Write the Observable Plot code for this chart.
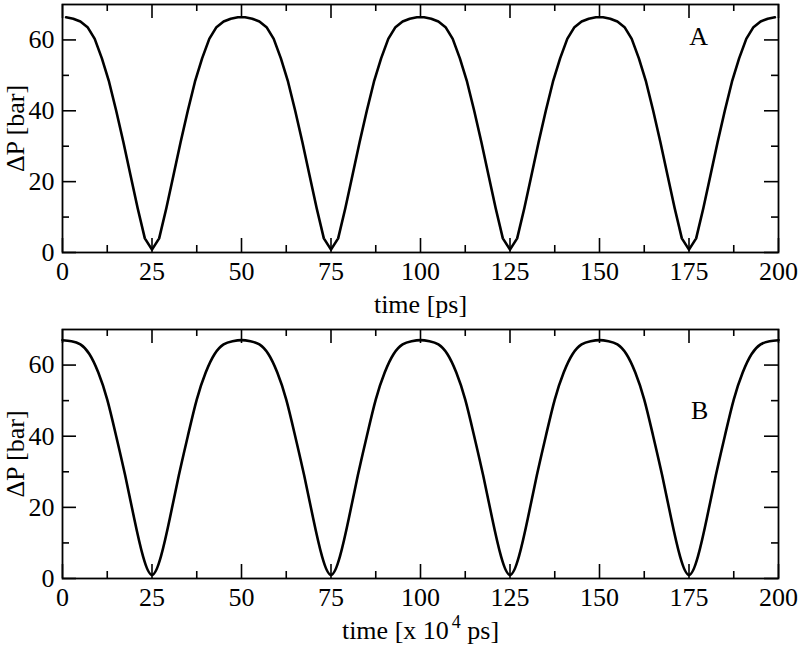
<!DOCTYPE html>
<html>
<head>
<meta charset="utf-8">
<script src="https://cdn.jsdelivr.net/npm/d3@7"></script>
<script src="https://cdn.jsdelivr.net/npm/@observablehq/plot@0.6"></script>
<style>
  html, body { margin: 0; padding: 0; background: white; }
  #chart svg { display: block; }
</style>
</head>
<body>
<div id="chart"></div>
<script>
// ---- Data ----
// Panel A: coarse sampling at odd times 1..199 ps
const timesA = d3.range(1, 200, 2);
const valuesA = [
  66.4,66.0,65.2,63.6,60.3,54.8,48.2,40.0,31.2,21.8,12.5,4.0,0.8,4.0,12.5,21.8,31.2,40.0,48.2,54.8,60.3,63.6,65.2,66.0,66.4,
  66.4,66.0,65.2,63.6,60.3,54.8,48.2,40.0,31.2,21.8,12.5,4.0,0.8,4.0,12.5,21.8,31.2,40.0,48.2,54.8,60.3,63.6,65.2,66.0,66.4,
  66.4,66.0,65.2,63.6,60.3,54.8,48.2,40.0,31.2,21.8,12.5,4.0,0.8,4.0,12.5,21.8,31.2,40.0,48.2,54.8,60.3,63.6,65.2,66.0,66.4,
  66.4,66.0,65.2,63.6,60.3,54.8,48.2,40.0,31.2,21.8,12.5,4.0,0.8,4.0,12.5,21.8,31.2,40.0,48.2,54.8,60.3,63.6,65.2,66.0,66.4
];
// Panel B: sampled every 2.5 (x 10^4 ps), smooth curve
const timesB = d3.range(0, 200.001, 2.5);
const valuesB = [
  67.0,66.7,65.8,63.1,57.9,50.3,40.0,29.0,17.0,6.2,1.0,6.2,17.0,29.0,40.0,50.3,57.9,63.1,65.8,66.7,67.0,
  66.7,65.8,63.1,57.9,50.3,40.0,29.0,17.0,6.2,1.0,6.2,17.0,29.0,40.0,50.3,57.9,63.1,65.8,66.7,67.0,
  66.7,65.8,63.1,57.9,50.3,40.0,29.0,17.0,6.2,1.0,6.2,17.0,29.0,40.0,50.3,57.9,63.1,65.8,66.7,67.0,
  66.7,65.8,63.1,57.9,50.3,40.0,29.0,17.0,6.2,1.0,6.2,17.0,29.0,40.0,50.3,57.9,63.1,65.8,66.7,67.0
];
const xMajor = [0, 25, 50, 75, 100, 125, 150, 175, 200];
const xMinor = [12.5, 37.5, 62.5, 87.5, 112.5, 137.5, 162.5, 187.5];
const yMajor = [0, 20, 40, 60];
const yMinor = [10, 30, 50];
const yTitle = "ΔP [bar]";
const xTitleA = "time [ps]";
const xTitleB = "time [x 10^4 ps]";

const W = 801, ML = 62, MR = 23;

function panel({times, values, curve, tag, tagX, tagY, height, marginTop, marginBottom, xTitle}) {
  const innerH = height - marginTop - marginBottom;
  const innerW = W - ML - MR;
  const data = times.map((t, i) => ({t, p: values[i]}));
  const tickStyle = {stroke: "black", strokeWidth: 1.6};
  return Plot.plot({
    width: W, height, marginLeft: ML, marginRight: MR, marginTop, marginBottom,
    style: {fontFamily: "'Liberation Serif', 'Times New Roman', serif", fontSize: "26px", background: "white", color: "black", overflow: "visible"},
    x: {domain: [0, 200]},
    y: {domain: [0, 70]},
    marks: [
      Plot.tickX(xMajor, {x: d => d, insetTop: innerH - 14, ...tickStyle}),
      Plot.tickX(xMajor, {x: d => d, insetBottom: innerH - 14, ...tickStyle}),
      Plot.tickX(xMinor, {x: d => d, insetTop: innerH - 7, ...tickStyle}),
      Plot.tickX(xMinor, {x: d => d, insetBottom: innerH - 7, ...tickStyle}),
      Plot.tickY(yMajor, {y: d => d, insetRight: innerW - 14, ...tickStyle}),
      Plot.tickY(yMajor, {y: d => d, insetLeft: innerW - 14, ...tickStyle}),
      Plot.tickY(yMinor, {y: d => d, insetRight: innerW - 7, ...tickStyle}),
      Plot.tickY(yMinor, {y: d => d, insetLeft: innerW - 7, ...tickStyle}),
      Plot.axisX({ticks: xMajor, tickSize: 0, tickPadding: 9, label: null, tickFormat: d => String(d)}),
      Plot.axisY({ticks: yMajor, tickSize: 0, tickPadding: 8, label: null, tickFormat: d => String(d)}),
      Plot.line(data, {x: "t", y: "p", stroke: "black", strokeWidth: 2.6, curve}),
      Plot.frame({stroke: "black", strokeWidth: 1.8}),
      Plot.text([tag], {x: () => tagX, y: () => tagY, text: d => d, textAnchor: "middle", lineAnchor: "middle", fill: "black"}),
      Plot.text([yTitle], {frameAnchor: "left", text: d => d, rotate: -90, dx: -47, textAnchor: "middle", lineAnchor: "middle", fill: "black"}),
      Plot.text([xTitle], {frameAnchor: "bottom", text: d => d, dy: 52, textAnchor: "middle", lineAnchor: "middle", fill: "black"})
    ]
  });
}

const svgA = panel({times: timesA, values: valuesA, curve: "linear", tag: "A", tagX: 177.7, tagY: 60.9,
  height: 318, marginTop: 4, marginBottom: 66, xTitle: xTitleA});
const svgB = panel({times: timesB, values: valuesB, curve: "natural", tag: "B", tagX: 178, tagY: 47.2,
  height: 329, marginTop: 11, marginBottom: 69, xTitle: xTitleB});

// superscript for "10^4"
svgB.querySelectorAll("text").forEach(el => {
  if (el.textContent === xTitleB) {
    const ns = "http://www.w3.org/2000/svg";
    el.textContent = "";
    const a = document.createElementNS(ns, "tspan"); a.textContent = "time [x 10";
    const s = document.createElementNS(ns, "tspan"); s.textContent = "4"; s.setAttribute("font-size", "18"); s.setAttribute("dy", "-11"); s.setAttribute("dx", "3");
    const b = document.createElementNS(ns, "tspan"); b.textContent = " ps]"; b.setAttribute("dy", "11");
    el.append(a, s, b);
  }
});

document.getElementById("chart").append(svgA, svgB);
</script>
</body>
</html>
